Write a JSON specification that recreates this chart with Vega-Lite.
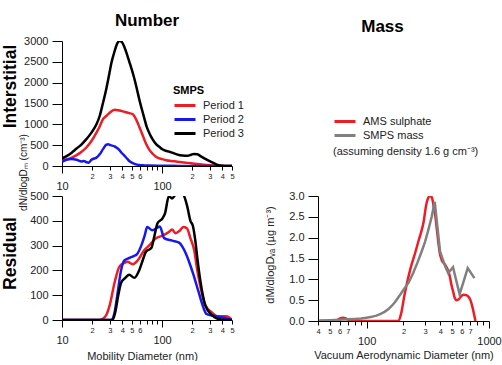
{
  "$schema": "https://vega.github.io/schema/vega-lite/v6.json",
  "padding": {"left": 1, "top": 12, "right": 0, "bottom": 0},
  "config": {
    "view": {"stroke": null},
    "font": "Liberation Sans",
    "axis": {"domainColor": "#000", "tickColor": "#000", "labelColor": "#222", "titleColor": "#222", "labelFontSize": 11, "titleFontSize": 11, "titleFontWeight": "normal", "grid": false, "labelFont": "Liberation Sans", "titleFont": "Liberation Sans"},
    "legend": {"labelFontSize": 11, "labelColor": "#222", "symbolStrokeWidth": 3, "symbolType": "M-1,0H2.5", "symbolSize": 144, "rowPadding": 0, "labelOffset": 15, "labelFont": "Liberation Sans", "titleFont": "Liberation Sans"},
    "title": {"fontSize": 17, "fontWeight": "bold", "color": "#000", "font": "Liberation Sans"}
  },
  "datasets": {
    "interstitial": [
      {"d": 10, "n": 120, "period": "Period 1"}, {"d": 11, "n": 150, "period": "Period 1"}, {"d": 12.5, "n": 200, "period": "Period 1"}, {"d": 14, "n": 260, "period": "Period 1"}, {"d": 15.7, "n": 340, "period": "Period 1"}, {"d": 17.6, "n": 450, "period": "Period 1"}, {"d": 19.7, "n": 600, "period": "Period 1"}, {"d": 22.1, "n": 800, "period": "Period 1"}, {"d": 23.8, "n": 950, "period": "Period 1"}, {"d": 25.6, "n": 1120, "period": "Period 1"}, {"d": 27.7, "n": 1200, "period": "Period 1"}, {"d": 30, "n": 1280, "period": "Period 1"}, {"d": 33.5, "n": 1350, "period": "Period 1"}, {"d": 37.5, "n": 1330, "period": "Period 1"}, {"d": 42, "n": 1300, "period": "Period 1"}, {"d": 47, "n": 1270, "period": "Period 1"}, {"d": 51, "n": 1240, "period": "Period 1"}, {"d": 55, "n": 1120, "period": "Period 1"}, {"d": 59, "n": 950, "period": "Period 1"}, {"d": 63, "n": 780, "period": "Period 1"}, {"d": 69, "n": 540, "period": "Period 1"}, {"d": 75, "n": 380, "period": "Period 1"}, {"d": 80, "n": 300, "period": "Period 1"}, {"d": 87, "n": 220, "period": "Period 1"}, {"d": 100, "n": 165, "period": "Period 1"}, {"d": 110, "n": 140, "period": "Period 1"}, {"d": 130, "n": 115, "period": "Period 1"}, {"d": 150, "n": 95, "period": "Period 1"}, {"d": 180, "n": 75, "period": "Period 1"}, {"d": 210, "n": 55, "period": "Period 1"}, {"d": 260, "n": 30, "period": "Period 1"}, {"d": 330, "n": 10, "period": "Period 1"}, {"d": 400, "n": 2, "period": "Period 1"}, {"d": 500, "n": 0, "period": "Period 1"},
      {"d": 10, "n": 100, "period": "Period 2"}, {"d": 11, "n": 150, "period": "Period 2"}, {"d": 12.5, "n": 170, "period": "Period 2"}, {"d": 14, "n": 150, "period": "Period 2"}, {"d": 15.7, "n": 110, "period": "Period 2"}, {"d": 16.5, "n": 120, "period": "Period 2"}, {"d": 17.6, "n": 90, "period": "Period 2"}, {"d": 18.5, "n": 80, "period": "Period 2"}, {"d": 19.7, "n": 150, "period": "Period 2"}, {"d": 21, "n": 180, "period": "Period 2"}, {"d": 22.1, "n": 200, "period": "Period 2"}, {"d": 23.8, "n": 280, "period": "Period 2"}, {"d": 25.6, "n": 400, "period": "Period 2"}, {"d": 27.7, "n": 510, "period": "Period 2"}, {"d": 29, "n": 520, "period": "Period 2"}, {"d": 30.5, "n": 500, "period": "Period 2"}, {"d": 33.5, "n": 470, "period": "Period 2"}, {"d": 35.5, "n": 430, "period": "Period 2"}, {"d": 37.5, "n": 380, "period": "Period 2"}, {"d": 40, "n": 300, "period": "Period 2"}, {"d": 42, "n": 250, "period": "Period 2"}, {"d": 45, "n": 170, "period": "Period 2"}, {"d": 47, "n": 120, "period": "Period 2"}, {"d": 50, "n": 80, "period": "Period 2"}, {"d": 53, "n": 50, "period": "Period 2"}, {"d": 59, "n": 25, "period": "Period 2"}, {"d": 66, "n": 15, "period": "Period 2"}, {"d": 75, "n": 10, "period": "Period 2"}, {"d": 100, "n": 5, "period": "Period 2"}, {"d": 150, "n": 3, "period": "Period 2"}, {"d": 250, "n": 0, "period": "Period 2"}, {"d": 500, "n": 0, "period": "Period 2"},
      {"d": 10, "n": 180, "period": "Period 3"}, {"d": 11, "n": 230, "period": "Period 3"}, {"d": 12.5, "n": 320, "period": "Period 3"}, {"d": 14, "n": 420, "period": "Period 3"}, {"d": 15.7, "n": 520, "period": "Period 3"}, {"d": 17.6, "n": 650, "period": "Period 3"}, {"d": 19.7, "n": 800, "period": "Period 3"}, {"d": 22.1, "n": 1000, "period": "Period 3"}, {"d": 23.8, "n": 1200, "period": "Period 3"}, {"d": 25.6, "n": 1500, "period": "Period 3"}, {"d": 27.7, "n": 1850, "period": "Period 3"}, {"d": 29.9, "n": 2250, "period": "Period 3"}, {"d": 31, "n": 2450, "period": "Period 3"}, {"d": 33.5, "n": 2750, "period": "Period 3"}, {"d": 35.5, "n": 2930, "period": "Period 3"}, {"d": 37.5, "n": 3000, "period": "Period 3"}, {"d": 39.5, "n": 2980, "period": "Period 3"}, {"d": 42.1, "n": 2850, "period": "Period 3"}, {"d": 45, "n": 2650, "period": "Period 3"}, {"d": 47.1, "n": 2500, "period": "Period 3"}, {"d": 50, "n": 2300, "period": "Period 3"}, {"d": 52.8, "n": 2100, "period": "Period 3"}, {"d": 56, "n": 1850, "period": "Period 3"}, {"d": 59.2, "n": 1600, "period": "Period 3"}, {"d": 63, "n": 1350, "period": "Period 3"}, {"d": 66.4, "n": 1150, "period": "Period 3"}, {"d": 70, "n": 950, "period": "Period 3"}, {"d": 74.3, "n": 800, "period": "Period 3"}, {"d": 80, "n": 650, "period": "Period 3"}, {"d": 86.7, "n": 530, "period": "Period 3"}, {"d": 95, "n": 450, "period": "Period 3"}, {"d": 100.7, "n": 400, "period": "Period 3"}, {"d": 115, "n": 350, "period": "Period 3"}, {"d": 126, "n": 320, "period": "Period 3"}, {"d": 140, "n": 280, "period": "Period 3"}, {"d": 160, "n": 250, "period": "Period 3"}, {"d": 180, "n": 245, "period": "Period 3"}, {"d": 195, "n": 270, "period": "Period 3"}, {"d": 208, "n": 290, "period": "Period 3"}, {"d": 225, "n": 280, "period": "Period 3"}, {"d": 245, "n": 230, "period": "Period 3"}, {"d": 271, "n": 170, "period": "Period 3"}, {"d": 310, "n": 100, "period": "Period 3"}, {"d": 366, "n": 20, "period": "Period 3"}, {"d": 400, "n": 5, "period": "Period 3"}, {"d": 450, "n": 0, "period": "Period 3"}, {"d": 500, "n": 0, "period": "Period 3"}
    ],
    "residual": [
      {"d": 10, "n": 0, "period": "Period 1"}, {"d": 23.4, "n": 0, "period": "Period 1"}, {"d": 25.6, "n": 5, "period": "Period 1"}, {"d": 27.7, "n": 20, "period": "Period 1"}, {"d": 30, "n": 60, "period": "Period 1"}, {"d": 33.5, "n": 150, "period": "Period 1"}, {"d": 37.5, "n": 215, "period": "Period 1"}, {"d": 42, "n": 230, "period": "Period 1"}, {"d": 45, "n": 235, "period": "Period 1"}, {"d": 51, "n": 225, "period": "Period 1"}, {"d": 57, "n": 240, "period": "Period 1"}, {"d": 66, "n": 280, "period": "Period 1"}, {"d": 74, "n": 300, "period": "Period 1"}, {"d": 87, "n": 330, "period": "Period 1"}, {"d": 101, "n": 340, "period": "Period 1"}, {"d": 117, "n": 355, "period": "Period 1"}, {"d": 126, "n": 365, "period": "Period 1"}, {"d": 136, "n": 350, "period": "Period 1"}, {"d": 150, "n": 360, "period": "Period 1"}, {"d": 163, "n": 375, "period": "Period 1"}, {"d": 177, "n": 370, "period": "Period 1"}, {"d": 192, "n": 330, "period": "Period 1"}, {"d": 210, "n": 280, "period": "Period 1"}, {"d": 225, "n": 200, "period": "Period 1"}, {"d": 243, "n": 130, "period": "Period 1"}, {"d": 270, "n": 60, "period": "Period 1"}, {"d": 315, "n": 30, "period": "Period 1"}, {"d": 360, "n": 15, "period": "Period 1"}, {"d": 440, "n": 15, "period": "Period 1"}, {"d": 500, "n": 0, "period": "Period 1"},
      {"d": 10, "n": 0, "period": "Period 2"}, {"d": 31, "n": 0, "period": "Period 2"}, {"d": 33.5, "n": 30, "period": "Period 2"}, {"d": 36, "n": 110, "period": "Period 2"}, {"d": 38.5, "n": 190, "period": "Period 2"}, {"d": 42, "n": 240, "period": "Period 2"}, {"d": 47, "n": 250, "period": "Period 2"}, {"d": 52, "n": 258, "period": "Period 2"}, {"d": 56, "n": 265, "period": "Period 2"}, {"d": 62, "n": 300, "period": "Period 2"}, {"d": 67, "n": 340, "period": "Period 2"}, {"d": 71, "n": 375, "period": "Period 2"}, {"d": 80, "n": 362, "period": "Period 2"}, {"d": 88, "n": 370, "period": "Period 2"}, {"d": 95, "n": 377, "period": "Period 2"}, {"d": 105, "n": 330, "period": "Period 2"}, {"d": 126, "n": 320, "period": "Period 2"}, {"d": 148, "n": 312, "period": "Period 2"}, {"d": 160, "n": 295, "period": "Period 2"}, {"d": 172, "n": 270, "period": "Period 2"}, {"d": 188, "n": 230, "period": "Period 2"}, {"d": 205, "n": 185, "period": "Period 2"}, {"d": 231, "n": 115, "period": "Period 2"}, {"d": 259, "n": 50, "period": "Period 2"}, {"d": 277, "n": 25, "period": "Period 2"}, {"d": 320, "n": 18, "period": "Period 2"}, {"d": 380, "n": 12, "period": "Period 2"}, {"d": 450, "n": 5, "period": "Period 2"}, {"d": 500, "n": 0, "period": "Period 2"},
      {"d": 10, "n": 0, "period": "Period 3"}, {"d": 32, "n": 0, "period": "Period 3"}, {"d": 34, "n": 30, "period": "Period 3"}, {"d": 36.5, "n": 100, "period": "Period 3"}, {"d": 39, "n": 150, "period": "Period 3"}, {"d": 43, "n": 170, "period": "Period 3"}, {"d": 47, "n": 182, "period": "Period 3"}, {"d": 53, "n": 170, "period": "Period 3"}, {"d": 59, "n": 200, "period": "Period 3"}, {"d": 64, "n": 240, "period": "Period 3"}, {"d": 69, "n": 275, "period": "Period 3"}, {"d": 78, "n": 290, "period": "Period 3"}, {"d": 84, "n": 340, "period": "Period 3"}, {"d": 90, "n": 390, "period": "Period 3"}, {"d": 101, "n": 410, "period": "Period 3"}, {"d": 107, "n": 430, "period": "Period 3"}, {"d": 117, "n": 500, "period": "Period 3"}, {"d": 126, "n": 490, "period": "Period 3"}, {"d": 136, "n": 505, "period": "Period 3"}, {"d": 150, "n": 510, "period": "Period 3"}, {"d": 163, "n": 505, "period": "Period 3"}, {"d": 178, "n": 460, "period": "Period 3"}, {"d": 192, "n": 400, "period": "Period 3"}, {"d": 203, "n": 380, "period": "Period 3"}, {"d": 215, "n": 320, "period": "Period 3"}, {"d": 225, "n": 250, "period": "Period 3"}, {"d": 243, "n": 150, "period": "Period 3"}, {"d": 270, "n": 60, "period": "Period 3"}, {"d": 315, "n": 20, "period": "Period 3"}, {"d": 360, "n": 5, "period": "Period 3"}, {"d": 420, "n": 0, "period": "Period 3"}, {"d": 500, "n": 0, "period": "Period 3"}
    ],
    "mass": [
      {"d": 41, "m": 0, "series": "AMS sulphate"}, {"d": 55, "m": 0, "series": "AMS sulphate"}, {"d": 58, "m": 0.03, "series": "AMS sulphate"}, {"d": 61, "m": 0.07, "series": "AMS sulphate"}, {"d": 64, "m": 0.08, "series": "AMS sulphate"}, {"d": 67, "m": 0.07, "series": "AMS sulphate"}, {"d": 70, "m": 0.03, "series": "AMS sulphate"}, {"d": 73, "m": 0, "series": "AMS sulphate"}, {"d": 182, "m": 0, "series": "AMS sulphate"}, {"d": 192, "m": 0.2, "series": "AMS sulphate"}, {"d": 203, "m": 0.6, "series": "AMS sulphate"}, {"d": 215, "m": 0.95, "series": "AMS sulphate"}, {"d": 230, "m": 1.3, "series": "AMS sulphate"}, {"d": 250, "m": 1.65, "series": "AMS sulphate"}, {"d": 267, "m": 1.95, "series": "AMS sulphate"}, {"d": 280, "m": 2.15, "series": "AMS sulphate"}, {"d": 293, "m": 2.4, "series": "AMS sulphate"}, {"d": 305, "m": 2.75, "series": "AMS sulphate"}, {"d": 315, "m": 2.92, "series": "AMS sulphate"}, {"d": 325, "m": 2.99, "series": "AMS sulphate"}, {"d": 335, "m": 3.0, "series": "AMS sulphate"}, {"d": 346, "m": 2.9, "series": "AMS sulphate"}, {"d": 355, "m": 2.7, "series": "AMS sulphate"}, {"d": 363, "m": 2.55, "series": "AMS sulphate"}, {"d": 375, "m": 2.2, "series": "AMS sulphate"}, {"d": 385, "m": 1.9, "series": "AMS sulphate"}, {"d": 398, "m": 1.6, "series": "AMS sulphate"}, {"d": 410, "m": 1.47, "series": "AMS sulphate"}, {"d": 437, "m": 1.35, "series": "AMS sulphate"}, {"d": 464, "m": 1.2, "series": "AMS sulphate"}, {"d": 480, "m": 1.05, "series": "AMS sulphate"}, {"d": 493, "m": 0.87, "series": "AMS sulphate"}, {"d": 510, "m": 0.7, "series": "AMS sulphate"}, {"d": 524, "m": 0.56, "series": "AMS sulphate"}, {"d": 545, "m": 0.5, "series": "AMS sulphate"}, {"d": 565, "m": 0.52, "series": "AMS sulphate"}, {"d": 594, "m": 0.6, "series": "AMS sulphate"}, {"d": 620, "m": 0.63, "series": "AMS sulphate"}, {"d": 652, "m": 0.62, "series": "AMS sulphate"}, {"d": 680, "m": 0.58, "series": "AMS sulphate"}, {"d": 705, "m": 0.5, "series": "AMS sulphate"}, {"d": 730, "m": 0.35, "series": "AMS sulphate"}, {"d": 750, "m": 0.2, "series": "AMS sulphate"}, {"d": 765, "m": 0.08, "series": "AMS sulphate"}, {"d": 775, "m": 0, "series": "AMS sulphate"},
      {"d": 41, "m": 0.01, "series": "SMPS mass"}, {"d": 50, "m": 0.02, "series": "SMPS mass"}, {"d": 60, "m": 0.03, "series": "SMPS mass"}, {"d": 70, "m": 0.04, "series": "SMPS mass"}, {"d": 80, "m": 0.05, "series": "SMPS mass"}, {"d": 90, "m": 0.06, "series": "SMPS mass"}, {"d": 100, "m": 0.08, "series": "SMPS mass"}, {"d": 110, "m": 0.1, "series": "SMPS mass"}, {"d": 120, "m": 0.13, "series": "SMPS mass"}, {"d": 130, "m": 0.17, "series": "SMPS mass"}, {"d": 140, "m": 0.22, "series": "SMPS mass"}, {"d": 150, "m": 0.28, "series": "SMPS mass"}, {"d": 160, "m": 0.36, "series": "SMPS mass"}, {"d": 170, "m": 0.45, "series": "SMPS mass"}, {"d": 180, "m": 0.55, "series": "SMPS mass"}, {"d": 190, "m": 0.65, "series": "SMPS mass"}, {"d": 200, "m": 0.75, "series": "SMPS mass"}, {"d": 220, "m": 0.92, "series": "SMPS mass"}, {"d": 240, "m": 1.15, "series": "SMPS mass"}, {"d": 260, "m": 1.4, "series": "SMPS mass"}, {"d": 280, "m": 1.65, "series": "SMPS mass"}, {"d": 300, "m": 1.9, "series": "SMPS mass"}, {"d": 320, "m": 2.2, "series": "SMPS mass"}, {"d": 340, "m": 2.5, "series": "SMPS mass"}, {"d": 360, "m": 2.86, "series": "SMPS mass"}, {"d": 398, "m": 1.67, "series": "SMPS mass"}, {"d": 440, "m": 1.3, "series": "SMPS mass"}, {"d": 464, "m": 1.15, "series": "SMPS mass"}, {"d": 508, "m": 1.29, "series": "SMPS mass"}, {"d": 575, "m": 0.64, "series": "SMPS mass"}, {"d": 670, "m": 1.27, "series": "SMPS mass"}, {"d": 760, "m": 1.03, "series": "SMPS mass"}
    ]
  },
  "columns": 2,
  "bounds": "flush",
  "spacing": {"row": 30, "column": 86},
  "resolve": {"scale": {"color": "independent"}, "legend": {"color": "independent"}},
  "concat": [
    {
      "width": 170, "height": 125,
      "title": {"text": "Number", "offset": 5},
      "data": {"name": "interstitial"},
      "layer": [
        {
          "mark": {"type": "line", "interpolate": "monotone", "strokeWidth": 2.5, "clip": true},
          "encoding": {
            "x": {"field": "d", "type": "quantitative", "scale": {"type": "log", "domain": [10, 500], "nice": false},
              "axis": {"title": null, "values": [10, 20, 30, 40, 50, 60, 70, 80, 90, 100, 200, 300, 400, 500],
                "labelExpr": "datum.value == 10 ? '10' : datum.value == 100 ? '100' : (datum.value < 100 ? (datum.value <= 60 ? format(datum.value/10, 'd') : '') : format(datum.value/100, 'd'))",
                "labelFontSize": {"condition": {"test": "datum.value == 10 || datum.value == 100", "value": 11}, "value": 7.5},
                "tickSize": {"condition": {"test": "datum.value == 10 || datum.value == 100", "value": 7}, "value": 4},
                "labelPadding": {"condition": {"test": "datum.value == 10 || datum.value == 100", "value": 7}, "value": 2},
                "labelOverlap": false, "labelFlush": false, "labelBound": false}},
            "y": {"field": "n", "type": "quantitative", "scale": {"domain": [0, 3000], "nice": false},
              "axis": {"values": [0, 500, 1000, 1500, 2000, 2500, 3000], "format": "d", "tickSize": 10, "labelPadding": 4,
                "title": "Interstitial", "titleFontSize": 17.5, "titleFontWeight": "bold", "titleColor": "#000",
                "titleX": -52, "titleY": 45, "titleBaseline": "middle", "titleAlign": "center", "titleAngle": 270}},
            "color": {"field": "period", "type": "nominal",
              "scale": {"domain": ["Period 1", "Period 2", "Period 3"], "range": ["#ee1c24", "#1818ee", "#000000"]},
              "legend": {"title": "SMPS", "orient": "none", "legendX": 111, "legendY": 44, "titleFontSize": 11, "titleFontWeight": "bold", "titleColor": "#000", "titlePadding": 2}}
          }
        },
        {
          "mark": {"type": "line", "opacity": 0},
          "encoding": {
            "x": {"field": "d", "type": "quantitative", "scale": {"type": "log", "domain": [10, 500], "nice": false}},
            "y": {"field": "n", "type": "quantitative", "scale": {"domain": [0, 3000], "nice": false},
              "axis": {"orient": "left", "labels": false, "ticks": false, "domain": false,
                "title": "dN/dlogDₘ (cm⁻³)", "titleFontSize": 10, "titleX": -39, "titleY": 131, "titleBaseline": "middle", "titleAlign": "center", "titleAngle": 270}},
            "detail": {"field": "period"}
          }
        }
      ],
      "resolve": {"scale": {"y": "independent"}}
    },
    {
      "width": 171, "height": 125,
      "title": {"text": "Mass", "offset": 5, "dx": -21},
      "data": {"values": []},
      "mark": {"type": "point", "opacity": 0},
      "encoding": {}
    },
    {
      "width": 170, "height": 124,
      "data": {"name": "residual"},
      "mark": {"type": "line", "interpolate": "monotone", "strokeWidth": 2.5, "clip": true},
      "encoding": {
        "x": {"field": "d", "type": "quantitative", "scale": {"type": "log", "domain": [10, 500], "nice": false},
          "axis": {"title": "Mobility Diameter (nm)", "titleX": 80, "titleY": 36, "titleBaseline": "middle",
            "values": [10, 20, 30, 40, 50, 60, 70, 80, 90, 100, 200, 300, 400, 500],
            "labelExpr": "datum.value == 10 ? '10' : datum.value == 100 ? '100' : (datum.value < 100 ? (datum.value <= 60 ? format(datum.value/10, 'd') : '') : format(datum.value/100, 'd'))",
            "labelFontSize": {"condition": {"test": "datum.value == 10 || datum.value == 100", "value": 11}, "value": 7.5},
            "tickSize": {"condition": {"test": "datum.value == 10 || datum.value == 100", "value": 7}, "value": 4},
            "labelPadding": {"condition": {"test": "datum.value == 10 || datum.value == 100", "value": 7}, "value": 2},
            "labelOverlap": false, "labelFlush": false, "labelBound": false}},
        "y": {"field": "n", "type": "quantitative", "scale": {"domain": [0, 500], "nice": false},
          "axis": {"values": [0, 100, 200, 300, 400, 500], "format": "d", "tickSize": 10, "labelPadding": 4,
            "title": "Residual", "titleFontSize": 17.5, "titleFontWeight": "bold", "titleColor": "#000",
            "titleX": -52, "titleY": 57, "titleBaseline": "middle", "titleAlign": "center", "titleAngle": 270}},
        "color": {"field": "period", "type": "nominal",
          "scale": {"domain": ["Period 1", "Period 2", "Period 3"], "range": ["#ee1c24", "#1818ee", "#000000"]},
          "legend": null}
      }
    },
    {
      "width": 171, "height": 125,
      "data": {"name": "mass"},
      "encoding": {
        "x": {"field": "d", "type": "quantitative", "scale": {"type": "log", "domain": [40, 1000], "nice": false},
          "axis": {"title": "Vacuum Aerodynamic Diameter (nm)", "titleY": 34, "titleBaseline": "middle",
            "values": [40, 50, 60, 70, 80, 90, 100, 200, 300, 400, 500, 600, 700, 800, 900, 1000],
            "labelExpr": "datum.value == 100 ? '100' : datum.value == 1000 ? '1000' : (datum.value < 100 ? (datum.value <= 70 ? format(datum.value/10, 'd') : '') : (datum.value <= 700 ? format(datum.value/100, 'd') : ''))",
            "labelFontSize": {"condition": {"test": "datum.value == 100 || datum.value == 1000", "value": 11}, "value": 7.5},
            "tickSize": {"condition": {"test": "datum.value == 100 || datum.value == 1000", "value": 7}, "value": 4},
            "labelPadding": {"condition": {"test": "datum.value == 100 || datum.value == 1000", "value": 7}, "value": 2},
            "labelOverlap": false, "labelFlush": false, "labelBound": false}},
        "y": {"field": "m", "type": "quantitative", "scale": {"domain": [0, 3], "nice": false},
          "axis": {"values": [0, 0.5, 1, 1.5, 2, 2.5, 3], "format": ".1f", "tickSize": 10, "labelPadding": 4,
            "title": "dM/dlogDᵥₐ (µg m⁻³)", "titleX": -47.5, "titleY": 58.5, "titleBaseline": "middle", "titleAlign": "center", "titleAngle": 270}},
        "color": {"field": "series", "type": "nominal",
          "scale": {"domain": ["AMS sulphate", "SMPS mass"], "range": ["#ee1c24", "#808080"]},
          "legend": {"title": "(assuming density 1.6 g cm⁻³)", "orient": "none", "legendX": 15, "legendY": -82,
            "titleOrient": "bottom", "titleAnchor": "start", "titleFontWeight": "normal", "titleFontSize": 11, "titleColor": "#222",
            "titlePadding": 4, "titleLimit": 300}}
      },
      "layer": [
        {"transform": [{"filter": "datum.series == 'AMS sulphate'"}], "mark": {"type": "line", "interpolate": "monotone", "strokeWidth": 2.5, "clip": true}},
        {"transform": [{"filter": "datum.series == 'SMPS mass'"}], "mark": {"type": "line", "strokeWidth": 2.5, "clip": true}}
      ]
    }
  ]
}
